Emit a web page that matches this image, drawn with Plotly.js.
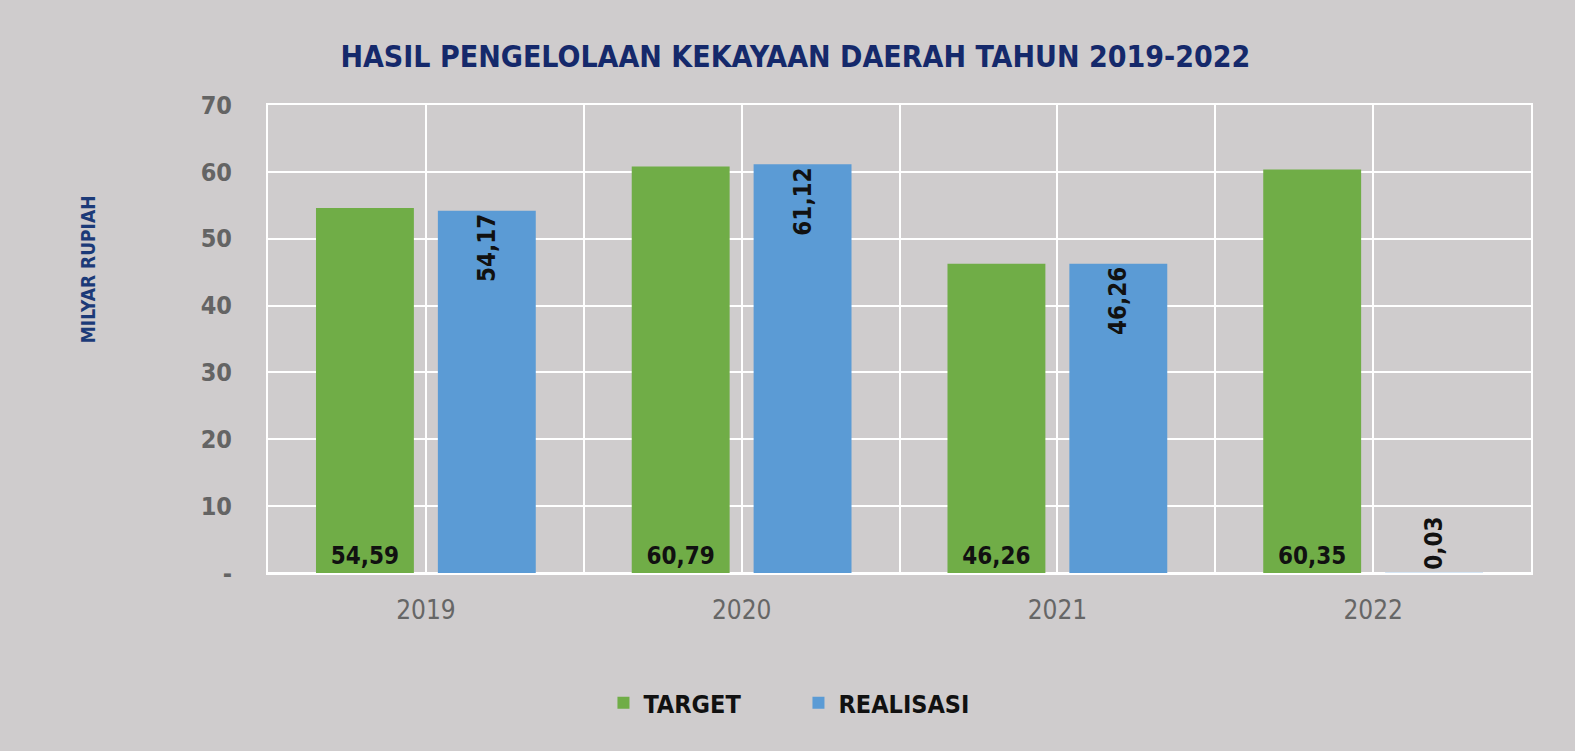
<!DOCTYPE html>
<html>
<head>
<meta charset="utf-8">
<script src="https://cdn.plot.ly/plotly-3.0.1.min.js"></script>
<style>
  html, body { margin: 0; padding: 0; background: #cfcccd; }
  #chart { width: 1575px; height: 751px; }
</style>
</head>
<body>
<div id="chart"></div>
<script>
// ---- data ----
const years = [2019, 2020, 2021, 2022];
const target = [54.59, 60.79, 46.26, 60.35];
const realisasi = [54.17, 61.12, 46.26, 0.03];
const targetLabels = ["54,59", "60,79", "46,26", "60,35"];
const realisasiLabels = ["54,17", "61,12", "46,26", "0,03"];
const yTickVals = [0, 10, 20, 30, 40, 50, 60, 70];
const yTickText = ["-", "10", "20", "30", "40", "50", "60", "70"];

const FONT = "'Liberation Sans Narrow', 'DejaVu Sans Condensed', 'Arial Narrow', sans-serif";

// x grid at category centres and boundaries
const xTickVals = [];
const xTickText = [];
years.forEach(y => {
  xTickVals.push(y - 0.5); xTickText.push("");
  xTickVals.push(y); xTickText.push(String(y));
});
xTickVals.push(years[years.length - 1] + 0.5); xTickText.push("");

const labelFont = { family: FONT, size: 24, color: "#111111", weight: "bold" };

const traces = [
  {
    type: "bar",
    name: "TARGET",
    x: years,
    y: target,
    offset: -0.348,
    width: 0.31,
    marker: { color: "#70ad47" },
    text: targetLabels,
    texttemplate: "%{text}",
    textposition: "inside",
    insidetextanchor: "start",
    textangle: 0,
    constraintext: "none",
    textfont: labelFont,
    hoverinfo: "skip"
  },
  {
    type: "bar",
    name: "REALISASI",
    x: years,
    y: realisasi,
    offset: 0.038,
    width: 0.31,
    marker: { color: "#5b9bd5" },
    text: realisasiLabels,
    texttemplate: "%{text}",
    textposition: "auto",
    insidetextanchor: "end",
    textangle: -90,
    constraintext: "none",
    textfont: labelFont,
    insidetextfont: labelFont,
    outsidetextfont: labelFont,
    hoverinfo: "skip"
  }
];

const layout = {
  width: 1575,
  height: 751,
  paper_bgcolor: "#cfcccd",
  plot_bgcolor: "rgba(0,0,0,0)",
  margin: { l: 268, r: 44, t: 105, b: 178 },
  barmode: "overlay",
  showlegend: true,
  title: {
    text: "HASIL PENGELOLAAN KEKAYAAN DAERAH TAHUN 2019-2022",
    font: { family: FONT, size: 30, color: "#15296b", weight: "bold" },
    xref: "container", x: 0.505,
    yref: "container", y: 0.925, yanchor: "middle"
  },
  xaxis: {
    type: "linear",
    range: [years[0] - 0.5, years[years.length - 1] + 0.5],
    tickmode: "array",
    tickvals: xTickVals,
    ticktext: xTickText,
    showgrid: true,
    gridcolor: "#ffffff",
    gridwidth: 2,
    showline: true,
    linecolor: "#ffffff",
    linewidth: 2,
    mirror: true,
    zeroline: false,
    ticks: "",
    ticklabelstandoff: 13,
    tickfont: { family: FONT, size: 26, color: "#666666" },
    fixedrange: true
  },
  yaxis: {
    range: [0, 70],
    tickmode: "array",
    tickvals: yTickVals,
    ticktext: yTickText,
    showgrid: true,
    gridcolor: "#ffffff",
    gridwidth: 2,
    showline: true,
    linecolor: "#ffffff",
    linewidth: 2,
    mirror: true,
    zeroline: true,
    zerolinecolor: "#ffffff",
    zerolinewidth: 2,
    ticks: "",
    ticklabelstandoff: 29,
    tickfont: { family: FONT, size: 25, color: "#646464", weight: "bold" },
    fixedrange: true
  },
  legend: {
    orientation: "h",
    x: 0.42, xanchor: "center",
    y: -0.278, yanchor: "middle",
    bgcolor: "rgba(0,0,0,0)",
    entrywidth: 150,
    entrywidthmode: "pixels",
    font: { family: FONT, size: 25, color: "#111111", weight: "bold" },
    itemclick: false,
    itemdoubleclick: false
  },
  annotations: [
    {
      text: "MILYAR RUPIAH",
      xref: "paper", yref: "paper",
      x: -0.143, y: 0.65,
      xanchor: "center", yanchor: "middle",
      textangle: -90,
      showarrow: false,
      font: { family: FONT, size: 19, color: "#1c3a78", weight: "bold" }
    }
  ]
};

Plotly.newPlot("chart", traces, layout, { staticPlot: true, displayModeBar: false });
</script>
</body>
</html>
